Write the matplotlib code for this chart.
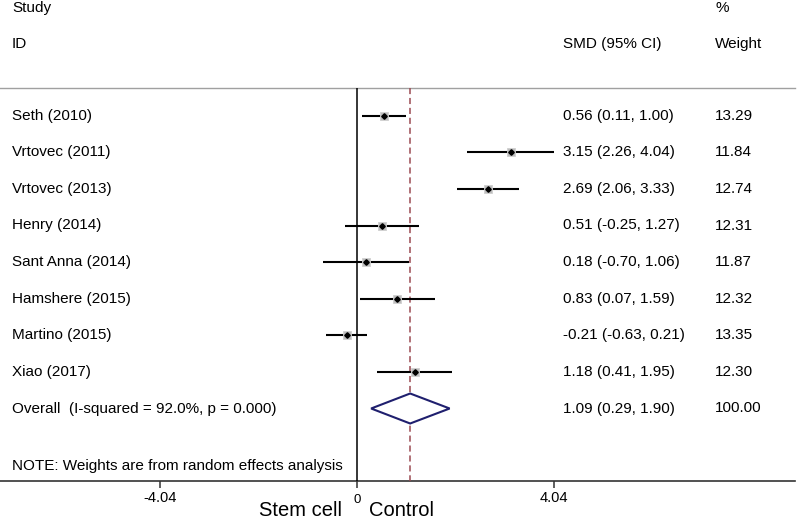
import matplotlib
matplotlib.use("Agg")
import matplotlib.pyplot as plt
from matplotlib.transforms import blended_transform_factory
import numpy as np

plt.rcParams['font.family'] = ['Liberation Sans', 'DejaVu Sans']

studies = ["Seth (2010)", "Vrtovec (2011)", "Vrtovec (2013)", "Henry (2014)",
           "Sant Anna (2014)", "Hamshere (2015)", "Martino (2015)", "Xiao (2017)"]
smd = [0.56, 3.15, 2.69, 0.51, 0.18, 0.83, -0.21, 1.18]
lo = [0.11, 2.26, 2.06, -0.25, -0.70, 0.07, -0.63, 0.41]
hi = [1.00, 4.04, 3.33, 1.27, 1.06, 1.59, 0.21, 1.95]
weights = [13.29, 11.84, 12.74, 12.31, 11.87, 12.32, 13.35, 12.30]
overall = 1.09
overall_lo = 0.29
overall_hi = 1.90
overall_label = "Overall  (I-squared = 92.0%, p = 0.000)"
xticks = [-4.04, 0, 4.04]
xticklabels = ["-4.04", "0", "4.04"]

W, H = 797, 520
fig = plt.figure(figsize=(W / 100, H / 100), dpi=100)
ax = fig.add_axes([0, 0, 1, 1])
ax.axis('off')

# pixel mapping of data x
x0_px = 357.0
px_per_unit = (554.0 - 357.0) / 4.04
ax.set_xlim(-x0_px / px_per_unit, (W - x0_px) / px_per_unit)
ax.set_ylim(H, 0)

tf = blended_transform_factory(ax.transAxes, ax.transData)
def fx(px):
    return px / W

fs = 11
row0, dy = 115.7, 36.6
rows = [row0 + i * dy for i in range(len(studies))]
y_over = row0 + len(studies) * dy
top_line, axis_y = 88, 480.5

# headers
ax.text(fx(12), 8, "Study", transform=tf, fontsize=fs, va='center', ha='left')
ax.text(fx(12), 44, "ID", transform=tf, fontsize=fs, va='center', ha='left')
ax.text(fx(563), 44, "SMD (95% CI)", transform=tf, fontsize=fs, va='center', ha='left')
ax.text(fx(715), 8, "%", transform=tf, fontsize=fs, va='center', ha='left')
ax.text(fx(715), 44, "Weight", transform=tf, fontsize=fs, va='center', ha='left')

# top gray line and bottom axis line
ax.plot([0, fx(795)], [top_line, top_line], transform=tf, color='#a0a0a0', lw=1.0)
ax.plot([0, fx(795)], [axis_y, axis_y], transform=tf, color='#333333', lw=1.2)

# zero line and overall dashed line
ax.vlines(0, top_line, axis_y, color='black', lw=1.1)
ax.vlines(overall, top_line, axis_y, color='#9b4a52', lw=1.1, linestyles=(0, (4, 2.5)))

# ticks
for t, lab in zip(xticks, xticklabels):
    ax.vlines(t, axis_y, axis_y + 7, color='#333333', lw=1.1)
    ax.text(t, 498 if lab != "0" else 500, lab, fontsize=10.5 if lab != "0" else 9.5,
            ha='center', va='center')

ax.text(fx(342), 510, "Stem cell", transform=tf, fontsize=14.5, ha='right', va='center')
ax.text(fx(369), 510, "Control", transform=tf, fontsize=14.5, ha='left', va='center')

# studies
for name, m, l, h, w, y in zip(studies, smd, lo, hi, weights, rows):
    ax.hlines(y, l, h, color='black', lw=1.5, zorder=3)
    ax.plot(m, y, marker='s', ms=np.sqrt(w) * 1.6, color='#bdbdbd', mec='#cfcfcf',
            mew=0.6, zorder=4, ls='none')
    ax.plot(m, y, marker='D', ms=2.8, color='black', zorder=5, ls='none')
    ax.text(fx(12), y, name, transform=tf, fontsize=fs, va='center', ha='left')
    ax.text(fx(563), y, f"{m:.2f} ({l:.2f}, {h:.2f})", transform=tf, fontsize=fs,
            va='center', ha='left')
    ax.text(fx(715), y, f"{w:.2f}", transform=tf, fontsize=fs, va='center', ha='left')

# overall diamond
hh = 15
ax.fill([overall_lo, overall, overall_hi, overall, overall_lo],
        [y_over, y_over - hh, y_over, y_over + hh, y_over],
        facecolor='white', edgecolor='#1f1f6e', lw=1.5, zorder=4)
ax.text(fx(12), y_over, overall_label, transform=tf, fontsize=fs, va='center', ha='left')
ax.text(fx(563), y_over, f"{overall:.2f} ({overall_lo:.2f}, {overall_hi:.2f})",
        transform=tf, fontsize=fs, va='center', ha='left')
ax.text(fx(715), y_over, "100.00", transform=tf, fontsize=fs, va='center', ha='left')

ax.text(fx(12), 466, "NOTE: Weights are from random effects analysis", transform=tf,
        fontsize=fs, va='center', ha='left')

fig.savefig("out.png", dpi=100)
